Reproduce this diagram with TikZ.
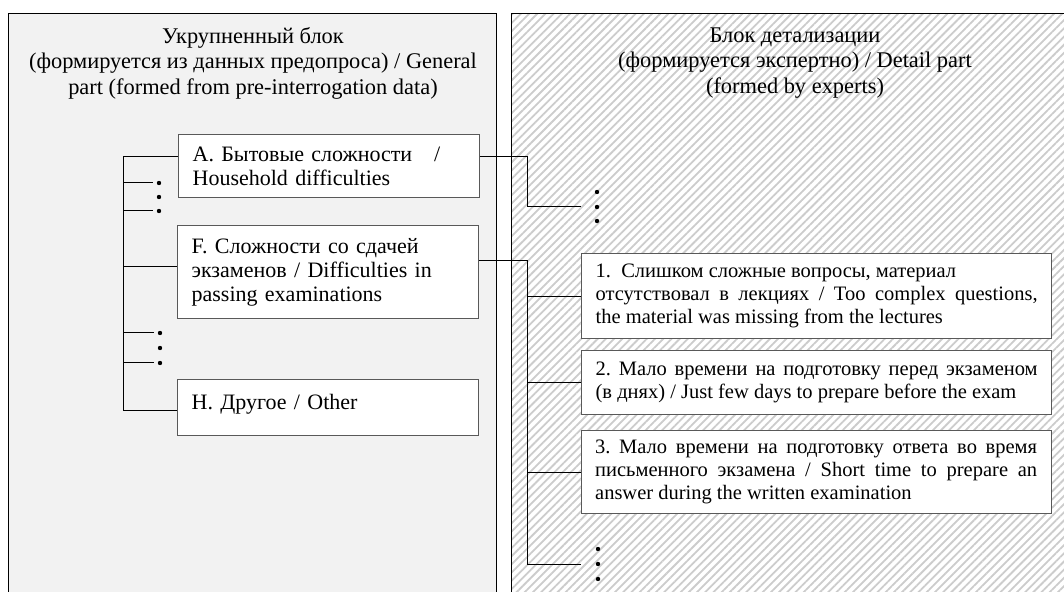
\documentclass[tikz,border=0pt]{standalone}
\usepackage{fontspec}
\setmainfont{Liberation Serif}
\usetikzlibrary{patterns.meta}
\frenchspacing

\begin{document}
\begin{tikzpicture}[x=0.5pt,y=-0.5pt]
	\tikzstyle{panel}=[draw=black,line width=0.7pt]
	\tikzstyle{ttl}=[anchor=north,inner sep=0pt,align=center,font=\fontsize{11.2}{12.75}\selectfont]
	\tikzstyle{blk}=[draw=black!65,line width=0.65pt,fill=white,anchor=north west,inner xsep=7pt,inner ysep=0pt,text width=136.5pt,align=left,font=\fontsize{11}{12}\selectfont]
	\tikzstyle{detail}=[blk,text width=221pt,align=justify,font=\fontsize{10.25}{11.4}\selectfont]
	\tikzstyle{pt}=[circle,fill=black,inner sep=0pt,minimum size=2.2pt]
	\tikzstyle{wire}=[draw=black,line width=0.5pt]

	\useasboundingbox (0,0) rectangle (1064,592);
	\clip (0,0) rectangle (1064,592);

	% two parts
	\draw[panel,fill=black!5] (8.6,13.3) rectangle (496.6,620);
	\draw[panel,preaction={fill=white},pattern={Lines[angle=45,distance=2.9pt,line width=0.9pt]},pattern color=black!20] (511.7,13.3) rectangle (1100,620);

	\node[ttl] (ltitle) at (253,27) {Укрупненный блок\\(формируется из данных предопроса) / General\\part (formed from pre-interrogation data)};
	\node[ttl] (rtitle) at (795,27) {Блок детализации\\(формируется экспертно) / Detail part\\(formed by experts)};

	% general part
	\node[blk,minimum height=31.5pt] (ablk) at (178,134) {А. Бытовые сложности\quad/\\Household difficulties};
	\node[blk,minimum height=46.5pt] (fblk) at (177,225) {F. Сложности со сдачей\\экзаменов / Difficulties in\\passing examinations};
	\node[blk,minimum height=28pt] (hblk) at (177,379) {Н. Другое / Other\\[-6pt]\mbox{}};

	\node[pt] (la1) at (159,183) {};
	\node[pt] (la2) at (159,197) {};
	\node[pt] (la3) at (159,211) {};
	\node[pt] (lb1) at (160,333) {};
	\node[pt] (lb2) at (160,348) {};
	\node[pt] (lb3) at (160,363) {};

	\coordinate (lt) at (123,157);
	\coordinate (lf) at (123,267);
	\coordinate (lb) at (123,411);
	\draw[wire] (lt) -- (lb);
	\draw[wire] (lt) -- (lt -| ablk.west);
	\draw[wire] (lf) -- (lf -| fblk.west);
	\draw[wire] (lb) -- (lb -| hblk.west);
	\foreach \d in {la1,la3,lb1,lb3}
		\draw[wire] (\d -| lt) -- ([xshift=-1.5pt]\d.west);

	% detail part
	\node[detail,minimum height=42.5pt] (det1) at (581,253) {1.\enspace Слишком сложные вопросы, материал\newline отсутствовал в лекциях / Too complex questions,\linebreak the material was missing from the lectures};
	\node[detail,minimum height=32pt] (det2) at (581,350) {2. Мало времени на подготовку перед экзаменом\linebreak (в днях) / Just few days to prepare before the exam};
	\node[detail,minimum height=41.5pt] (det3) at (580.5,430) {3. Мало времени на подготовку ответа во время\linebreak письменного экзамена / Short time to prepare an\linebreak answer during the written examination};

	\node[pt] (ra1) at (597,192) {};
	\node[pt] (ra2) at (597,207) {};
	\node[pt] (ra3) at (597,221) {};
	\node[pt] (rb1) at (598,549) {};
	\node[pt] (rb2) at (598,564) {};
	\node[pt] (rb3) at (598,579) {};

	\coordinate (ra) at (527,157);
	\coordinate (rf) at (527,261);
	\draw[wire] (ra -| ablk.east) -- (ra) |- (ra2 -| det1.west);
	\draw[wire] (rf -| fblk.east) -- (rf) -- (rf |- rb2) -- (rb2 -| det3.west);
	\foreach \b in {det1,det2,det3}
		\draw[wire] (\b.west -| rf) -- (\b.west);
\end{tikzpicture}
\end{document}
